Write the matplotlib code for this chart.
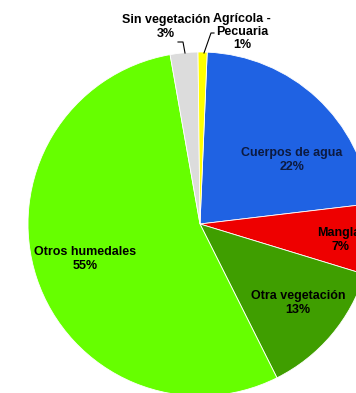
import numpy as np
import matplotlib
matplotlib.use('Agg')
import matplotlib.pyplot as plt

# land cover shares, clockwise from the top
categories = ['Cuerpos de agua', 'Manglar', 'Otra vegetación',
              'Otros humedales', 'Sin vegetación', 'Agrícola -\nPecuaria']
values = [22.45, 6.6, 12.9, 54.6, 2.6, 0.85]
pct_labels = [22, 7, 13, 55, 3, 1]             # as printed on the chart
colors = ['#1f62e3', '#ee0000', '#3f9e00', '#66ff00', '#dcdcdc', '#ffff00']

# label centres in pixel coords (x right, y down)
label_pos = [(292, 160), (341, 240), (298, 303), (85, 259), (166, 27), (242, 32)]
label_col = ['#0c1a40', 'black', 'black', 'black', 'black', 'black']

W, H = 356, 393
fig = plt.figure(figsize=(W / 100, H / 100), dpi=100)
ax = fig.add_axes([0, 0, 1, 1])

cx, cy, r = 200, H - 224, 172
wedges, _ = ax.pie(values, colors=colors, startangle=87.6, counterclock=False,
                   center=(cx, cy), radius=r, frame=True,
                   wedgeprops=dict(linewidth=0.6, edgecolor='white'))
ax.set_xlim(0, W)
ax.set_ylim(0, H)
ax.set_aspect('equal')
ax.axis('off')

for name, p, (x, y), c in zip(categories, pct_labels, label_pos, label_col):
    ax.text(x, H - y, '%s\n%d%%' % (name, p), ha='center', va='center',
            fontsize=9, fontweight='bold', color=c, family='Liberation Sans',
            linespacing=1.15)

# leader lines for the two small slices
ax.plot([178, 183, 185], [H - 42, H - 42, H - 53], color='black', lw=0.8)
ax.plot([214, 211, 204], [H - 33, H - 33, H - 53], color='black', lw=0.8)

fig.savefig('out.png', dpi=100)
